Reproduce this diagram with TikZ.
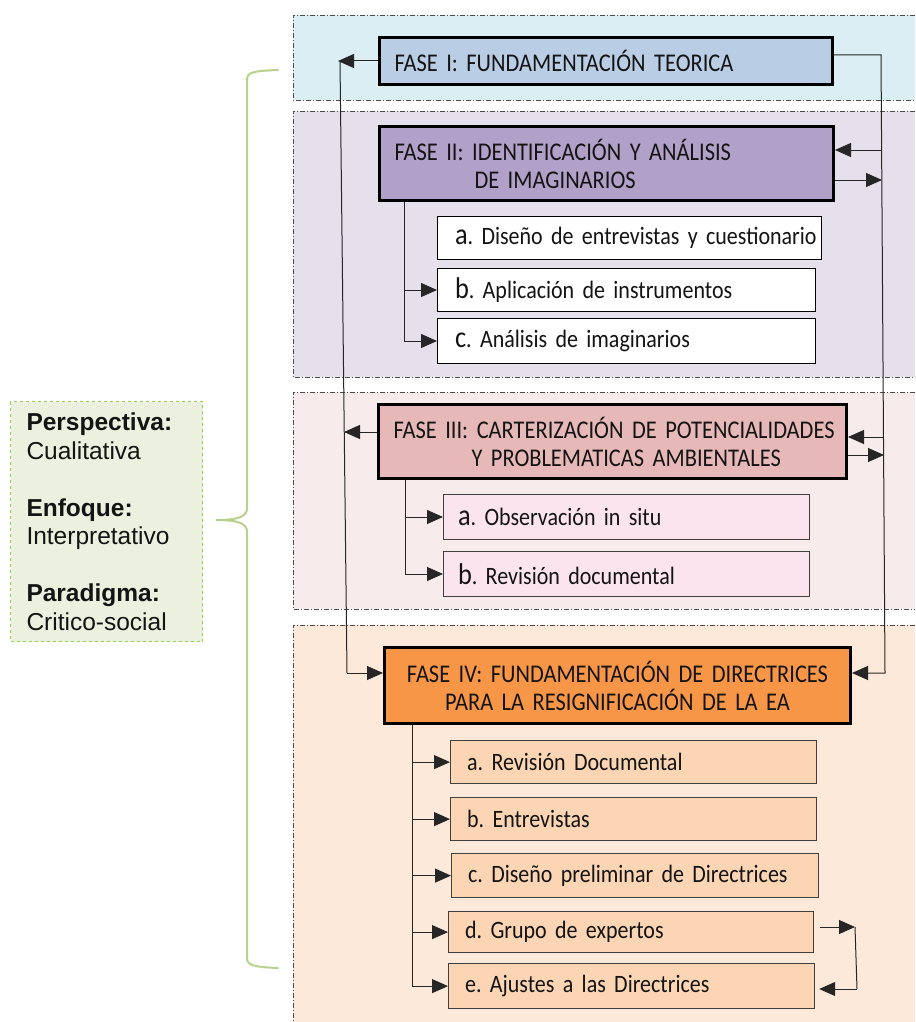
\documentclass[tikz,border=0pt]{standalone}
\usepackage{fontspec}
\setmainfont{Carlito}[FakeStretch=0.88]
\newfontfamily\arialfont{Liberation Sans}
\usetikzlibrary{arrows.meta}
\hyphenpenalty=10000
\exhyphenpenalty=10000
\frenchspacing

\definecolor{panelA}{HTML}{DAEEF3}
\definecolor{panelB}{HTML}{E5E0EC}
\definecolor{panelC}{HTML}{F7ECEB}
\definecolor{panelD}{HTML}{FDE9D9}
\definecolor{faseA}{HTML}{B9CDE5}
\definecolor{faseB}{HTML}{B1A0C7}
\definecolor{faseC}{HTML}{E6B9B8}
\definecolor{faseD}{HTML}{F79646}
\definecolor{subC}{HTML}{FBE4EE}
\definecolor{subD}{HTML}{FCD5B4}
\definecolor{sideFill}{HTML}{EBF1DE}
\definecolor{sideLine}{HTML}{92D050}
\definecolor{braceCol}{HTML}{B7D28C}
\definecolor{inkCol}{HTML}{141414}

% heading and step fonts with tight word spacing
\DeclareRobustCommand\headfont{\fontsize{25.5}{28}\selectfont\fontdimen2\font=4.6pt\relax}
\DeclareRobustCommand\stepfont{\fontsize{25}{26}\selectfont\fontdimen2\font=4.2pt\relax}
\newcommand\bigletter[1]{{\fontsize{30}{26}\selectfont #1}}

\begin{document}
\begin{tikzpicture}[x=1pt,y=-1pt,
  dd/.style={draw=black!70, line width=0.8pt, dash pattern=on 5pt off 2pt on 1pt off 2pt},
  phase/.style={draw=black, line width=3pt, anchor=north west, inner xsep=15pt, inner ysep=0pt,
    align=left, text=inkCol, font=\headfont},
  subbox/.style={anchor=north west, inner ysep=0pt, align=left, text=inkCol, font=\stepfont},
  subII/.style={subbox, draw=black, line width=1pt, fill=white, inner xsep=17.5pt},
  subIII/.style={subbox, draw=black!75, line width=1pt, fill=subC, inner xsep=14.5pt},
  subIV/.style={subbox, draw=black!75, line width=1.2pt, fill=subD, inner xsep=16.5pt},
  link/.style={draw=black!85, line width=1pt},
  arr/.style={link, -{Triangle[length=16pt,width=14pt]}}
]
\useasboundingbox (0,0) rectangle (915,1022);

% background bands of the four phases
\fill[panelA] (293,15) rectangle (915,100);
\draw[dd] (915,15) -- (293,15) -- (293,100) -- (915,100);
\fill[panelB] (293,111) rectangle (915,377);
\draw[dd] (915,111) -- (293,111) -- (293,377) -- (915,377);
\fill[panelC] (293,392) rectangle (915,609);
\draw[dd] (915,392) -- (293,392) -- (293,609) -- (915,609);
\fill[panelD] (293,625) rectangle (915,1022);
\draw[dd] (915,625) -- (293,625) -- (293,1022);

% methodological frame
\node[draw=sideLine, dashed, line width=1pt, fill=sideFill, anchor=north west,
  minimum height=240pt, text width=160pt, inner xsep=16pt, align=left,
  font=\arialfont\fontsize{24.5}{28.5}\selectfont, text=inkCol] (side) at (10,401)
  {\textbf{Perspectiva:}\\Cualitativa\\[28.5pt]\textbf{Enfoque:}\\Interpretativo\\[28.5pt]\textbf{Paradigma:}\\Critico-social};

% brace
\draw[braceCol, line width=2pt, line cap=round]
  (278,70) .. controls (253,71) and (247,72) .. (247,80) -- (247,508)
  .. controls (247,516) and (240,520) .. (216,520)
  .. controls (240,520) and (247,524) .. (247,532) -- (247,958)
  .. controls (247,965) and (253,967) .. (278,968);

% phases
\node[phase, fill=faseA, text width=423pt, minimum height=47pt] (f1) at (378,36)
  {\mbox{FASE I: FUNDAMENTACIÓN TEORICA}};
\node[phase, fill=faseB, text width=424pt, minimum height=74pt] (f2) at (378,125)
  {\mbox{FASE II: IDENTIFICACIÓN Y ANÁLISIS}\\\hspace*{80pt}\mbox{DE IMAGINARIOS}};
\node[phase, fill=faseC, text width=438pt, minimum height=74pt] (f3) at (377,403)
  {\mbox{FASE III: CARTERIZACIÓN DE POTENCIALIDADES}\\\hspace*{78pt}\mbox{Y PROBLEMATICAS AMBIENTALES}};
\node[phase, fill=faseD, text width=436pt, minimum height=76pt, align=center] (f4) at (383,646)
  {\mbox{FASE IV: FUNDAMENTACIÓN DE DIRECTRICES}\\\mbox{PARA LA RESIGNIFICACIÓN DE LA EA}};

% phase II steps
\node[subII, text width=349pt, minimum height=43pt] (a2) at (437,216)
  {\mbox{\bigletter{a}. Diseño de entrevistas y cuestionario}};
\node[subII, text width=343pt, minimum height=43pt] (b2) at (437,268)
  {\mbox{\bigletter{b}. Aplicación de instrumentos}};
\node[subII, text width=343pt, minimum height=45pt] (c2) at (437,318)
  {\mbox{\bigletter{c}. Análisis de imaginarios}};

% phase III steps
\node[subIII, text width=337pt, minimum height=45pt] (a3) at (443,494)
  {\mbox{\bigletter{a}. Observación in situ}};
\node[subIII, text width=337pt, minimum height=45pt] (b3) at (443,551)
  {\mbox{\bigletter{b}. Revisión documental}};

% phase IV steps
\node[subIV, text width=333pt, minimum height=43pt] (a4) at (450,740) {\mbox{a. Revisión Documental}};
\node[subIV, text width=333pt, minimum height=43pt] (b4) at (450,797) {\mbox{b. Entrevistas}};
\node[subIV, text width=334pt, minimum height=44pt] (c4) at (451,853) {\mbox{c. Diseño preliminar de Directrices}};
\node[subIV, text width=332pt, minimum height=41pt] (d4) at (448,911) {\mbox{d. Grupo de expertos}};
\node[subIV, text width=333pt, minimum height=45pt] (e4) at (448,963) {\mbox{e. Ajustes a las Directrices}};

% junction points of the outer loops
\coordinate (L1) at (338,61);
\coordinate (L2) at (347,673);
\coordinate (L3) at (344,432);
\coordinate (R1) at (881,55);
\coordinate (R2) at (885,673);
\coordinate (R2a) at (881,150);
\coordinate (R2b) at (882,180);
\coordinate (R3a) at (883,437);
\coordinate (R3b) at (884,455);

% left loop
\draw[arr] (f1.west) -- (L1);
\draw[link] ([xshift=2pt]L1) -- (L2);
\draw[arr] (L2) -- (L2 -| f4.west);
\draw[arr] (L3 -| f3.west) -- (L3);

% right loop
\draw[arr] (f1.east |- R1) -- (R1) -- (R2) -- (R2 -| f4.east);
\draw[arr] (R2a) -- (R2a -| f2.east);
\draw[arr] (f2.east |- R2b) -- (R2b);
\draw[arr] (R3a) -- (R3a -| f3.east);
\draw[arr] (f3.east |- R3b) -- (R3b);

% step trunks
\coordinate (T2) at (404,202);
\coordinate (T3) at (405,480);
\coordinate (T4) at (412,725);
\draw[link] (T2) -- (T2 |- c2.west);
\draw[arr] (T2 |- b2.west) -- (b2.west);
\draw[arr] (T2 |- c2.west) -- (c2.west);
\draw[link] (T3) -- (T3 |- b3.west);
\draw[arr] (T3 |- a3.west) -- (a3.west);
\draw[arr] (T3 |- b3.west) -- (b3.west);
\draw[link] (T4) -- (T4 |- e4.west);
\foreach \n in {a4,b4,c4,d4,e4}
  \draw[arr] (T4 |- \n.west) -- (\n.west);

% feedback between experts and adjustments
\coordinate (P1) at (855,927);
\coordinate (P2) at (857,989);
\draw[arr] ([xshift=6pt]d4.east |- P1) -- (P1);
\draw[link] (P1) -- (P2);
\draw[arr] (P2) -- ([xshift=4pt]e4.east |- P2);
\end{tikzpicture}
\end{document}
